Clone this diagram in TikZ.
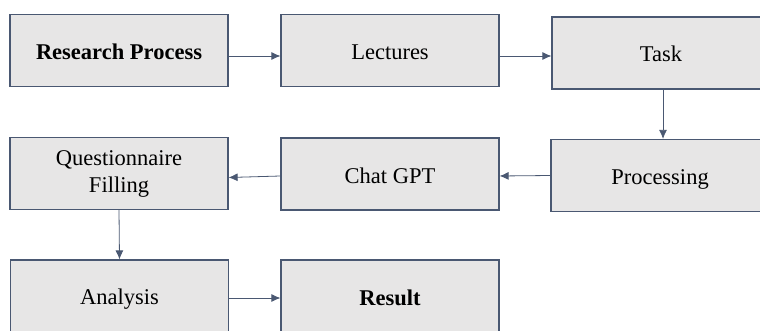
\documentclass[tikz,border=0pt]{standalone}
\usepackage{fontspec}
\setmainfont{Liberation Serif}
\usepackage{tikz}
\usetikzlibrary{arrows.meta}
\definecolor{boxfill}{HTML}{E7E6E6}
\definecolor{boxline}{HTML}{4A5872}

\begin{document}
\begin{tikzpicture}[x=1pt, y=1pt,
	every node/.style={font=\fontsize{22.5}{27}\selectfont},
	stage/.style={draw=boxline, line width=1.2pt, fill=boxfill, minimum width=218pt, minimum height=72pt, inner sep=0pt, align=center, execute at begin node={\rule[-4pt]{0pt}{26pt}}},
	flow/.style={draw=boxline, line width=0.8pt, -{Latex[length=9pt, width=8pt]}}]
	\useasboundingbox (0,0) rectangle (760,330);
	\node[stage] (rp) at (119,279.5) {\textbf{Research Process}};
	\node[stage] (lec) at (390,279.5) {Lectures};
	\node[stage] (task) at (661,277) {Task};
	\node[stage] (proc) at (660,154.5) {Processing};
	\node[stage] (gpt) at (390,156) {Chat GPT};
	\node[stage] (qf) at (119,156.5) {Questionnaire\\Filling};
	\node[stage] (ana) at (119.5,34) {Analysis};
	\node[stage] (res) at (390,34) {\textbf{Result}};
	\draw[flow] ([yshift=-5.5pt]rp.east) -- ([yshift=-5.5pt]lec.west);
	\draw[flow] ([yshift=-5.5pt]lec.east) -- ([yshift=-3pt]task.west);
	\draw[flow] ([xshift=2pt]task.south) -- ([xshift=3pt]proc.north);
	\draw[flow] (proc.west) -- ([yshift=-2pt]gpt.east);
	\draw[flow] ([yshift=-2pt]gpt.west) -- ([yshift=-4pt]qf.east);
	\draw[flow] (qf.south) -- (ana.north);
	\draw[flow] ([yshift=-2pt]ana.east) -- ([yshift=-2pt]res.west);
\end{tikzpicture}
\end{document}
